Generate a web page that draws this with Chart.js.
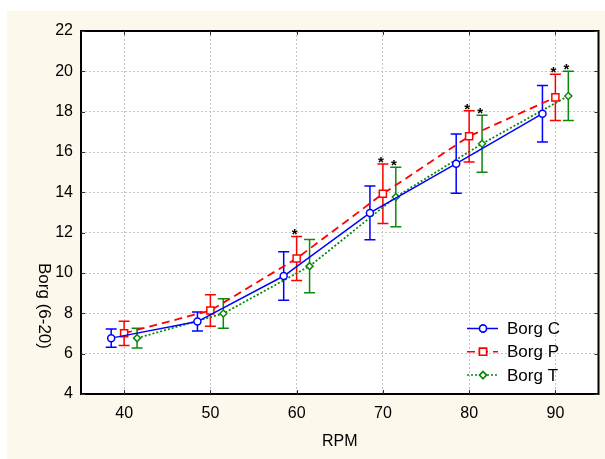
<!DOCTYPE html>
<html>
<head>
<meta charset="utf-8">
<script src="https://cdn.jsdelivr.net/npm/chart.js@4.4.0/dist/chart.umd.min.js"></script>
<style>
body { margin: 0; background: #fff; }
#wrap { width: 605px; height: 459px; }
</style>
</head>
<body>
<div id="wrap"><canvas id="chartCanvas"></canvas></div>
<script>
// values (mean and +/- error per RPM step)
const rpm = [40, 50, 60, 70, 80, 90];
const borgC = [6.77, 7.59, 9.85, 12.98, 15.42, 17.9];
const borgCErr = [0.45, 0.47, 1.2, 1.33, 1.47, 1.4];
const borgP = [7.01, 8.14, 10.72, 13.93, 16.78, 18.71];
const borgPErr = [0.6, 0.78, 1.09, 1.48, 1.27, 1.15];
const borgT = [6.77, 7.99, 10.34, 13.77, 16.41, 18.78];
const borgTErr = [0.49, 0.73, 1.32, 1.48, 1.41, 1.22];
const starsC = [false, false, false, false, false, false];
const starsP = [false, false, true, true, true, true];
const starsT = [false, false, false, true, true, true];
const yTicks = [4, 6, 8, 10, 12, 14, 16, 18, 20, 22];

const FONT = 'Arial, "Liberation Sans", sans-serif';

const series = [
    { label: 'Borg C', values: borgC, errs: borgCErr, stars: starsC, shift: -1.5,
      color: '#0000ff', dash: [], style: 'circle', radius: 3.5 },
    { label: 'Borg P', values: borgP, errs: borgPErr, stars: starsP, shift: 0,
      color: '#ff0000', dash: [8, 5], style: 'rect', radius: 5 },
    { label: 'Borg T', values: borgT, errs: borgTErr, stars: starsT, shift: 1.5,
      color: '#0a8a0a', dash: [2, 2], style: 'rectRot', radius: 3.5 },
];

const decor = {
    id: 'decor',
    beforeDraw(chart) {
        const { ctx, chartArea: a } = chart;
        ctx.save();
        ctx.fillStyle = '#fcf8ec';
        ctx.fillRect(7, 11, chart.width - 7, chart.height - 11);
        ctx.fillStyle = '#ffffff';
        ctx.fillRect(a.left, a.top, a.right - a.left, a.bottom - a.top);
        ctx.restore();
    },
    beforeDatasetsDraw(chart) {
        // error bars under the markers
        const { ctx } = chart;
        const yScale = chart.scales.y;
        ctx.save();
        ctx.lineWidth = 1.5;
        ctx.setLineDash([]);
        series.forEach((s, i) => {
            const meta = chart.getDatasetMeta(i);
            ctx.strokeStyle = s.color;
            meta.data.forEach((pt, j) => {
                const top = yScale.getPixelForValue(s.values[j] + s.errs[j]);
                const bot = yScale.getPixelForValue(s.values[j] - s.errs[j]);
                ctx.beginPath();
                ctx.moveTo(pt.x, top); ctx.lineTo(pt.x, bot);
                ctx.moveTo(pt.x - 5.5, top); ctx.lineTo(pt.x + 5.5, top);
                ctx.moveTo(pt.x - 5.5, bot); ctx.lineTo(pt.x + 5.5, bot);
                ctx.stroke();
            });
        });
        ctx.restore();
    },
    afterDraw(chart) {
        const { ctx, chartArea: a } = chart;
        const yScale = chart.scales.y;
        const xScale = chart.scales.x;
        ctx.save();

        // significance stars
        ctx.fillStyle = '#000';
        ctx.font = 'bold 15px ' + FONT;
        ctx.textAlign = 'center';
        ctx.textBaseline = 'alphabetic';
        series.forEach((s, i) => {
            const meta = chart.getDatasetMeta(i);
            meta.data.forEach((pt, j) => {
                if (!s.stars[j]) return;
                const top = yScale.getPixelForValue(s.values[j] + s.errs[j]);
                ctx.fillText('*', pt.x - 2, top + 3);
            });
        });

        // frame and inner ticks
        ctx.strokeStyle = '#000';
        ctx.lineWidth = 2;
        ctx.strokeRect(a.left, a.top, a.right - a.left, a.bottom - a.top);
        ctx.lineWidth = 1;
        ctx.strokeStyle = '#333';
        ctx.beginPath();
        rpm.forEach(v => {
            const x = Math.round(xScale.getPixelForValue(v)) + 0.5;
            ctx.moveTo(x, a.bottom); ctx.lineTo(x, a.bottom - 4);
            ctx.moveTo(x, a.top); ctx.lineTo(x, a.top + 4);
        });
        yTicks.forEach(v => {
            const y = Math.round(yScale.getPixelForValue(v)) + 0.5;
            ctx.moveTo(a.left, y); ctx.lineTo(a.left + 4, y);
            ctx.moveTo(a.right, y); ctx.lineTo(a.right - 4, y);
        });
        ctx.stroke();

        // legend inside the plot, bottom right
        ctx.font = '17px ' + FONT;
        ctx.textAlign = 'left';
        ctx.textBaseline = 'middle';
        series.forEach((s, i) => {
            const y = 328.5 + i * 23.3;
            ctx.strokeStyle = s.color;
            ctx.lineWidth = 1.5;
            ctx.setLineDash(s.dash);
            ctx.beginPath();
            ctx.moveTo(467, y); ctx.lineTo(498, y);
            ctx.stroke();
            ctx.setLineDash([]);
            Chart.helpers.drawPoint(ctx, {
                pointStyle: s.style, radius: s.radius, borderWidth: 1.5, rotation: 0
            }, 483, y);
            ctx.fillStyle = '#fff';
            ctx.fill();
            ctx.stroke();
            ctx.fillStyle = '#000';
            ctx.fillText(s.label, 507, y + 1);
        });

        // y axis title, rotated clockwise
        ctx.translate(44, 306);
        ctx.rotate(Math.PI / 2);
        ctx.textAlign = 'center';
        ctx.textBaseline = 'middle';
        ctx.font = '17px ' + FONT;
        ctx.fillText('Borg (6-20)', 0, 0);
        ctx.restore();
    }
};

const ctx = document.getElementById('chartCanvas').getContext('2d');

new Chart(ctx, {
    type: 'line',
    data: {
        datasets: series.map(s => ({
            label: s.label,
            data: rpm.map((r, j) => ({ x: r + s.shift, y: s.values[j] })),
            borderColor: s.color,
            borderWidth: s.dash.length ? 1.8 : 1.5,
            borderDash: s.dash,
            backgroundColor: '#ffffff',
            pointStyle: s.style,
            pointRadius: s.radius,
            pointBorderWidth: 1.5,
            pointBackgroundColor: '#ffffff',
            pointBorderColor: s.color,
            tension: 0,
            fill: false,
        }))
    },
    options: {
        responsive: true,
        maintainAspectRatio: false,
        animation: false,
        layout: { padding: { left: 0, top: 31, right: 4, bottom: 0 } },
        plugins: {
            legend: { display: false },
            tooltip: { enabled: false },
        },
        scales: {
            x: {
                type: 'linear',
                min: 35,
                max: 95,
                afterBuildTicks: scale => { scale.ticks = rpm.map(v => ({ value: v })); },
                afterFit: scale => { scale.height = 65; },
                grid: { color: '#c4c4c4', lineWidth: 1, drawTicks: false },
                border: { display: false, dash: [2, 2] },
                ticks: { color: '#000', font: { family: FONT, size: 16 }, padding: 10, maxRotation: 0 },
                title: { display: true, text: 'RPM', color: '#000', font: { family: FONT, size: 16 },
                         padding: { top: 0, bottom: 8 } },
            },
            y: {
                min: 4,
                max: 22,
                afterBuildTicks: scale => { scale.ticks = yTicks.map(v => ({ value: v })); },
                afterFit: scale => { scale.width = 81; },
                grid: { color: '#c4c4c4', lineWidth: 1, drawTicks: false },
                border: { display: false, dash: [2, 2] },
                ticks: { color: '#000', font: { family: FONT, size: 16 }, padding: 8 },
            }
        }
    },
    plugins: [decor]
});
</script>
</body>
</html>
